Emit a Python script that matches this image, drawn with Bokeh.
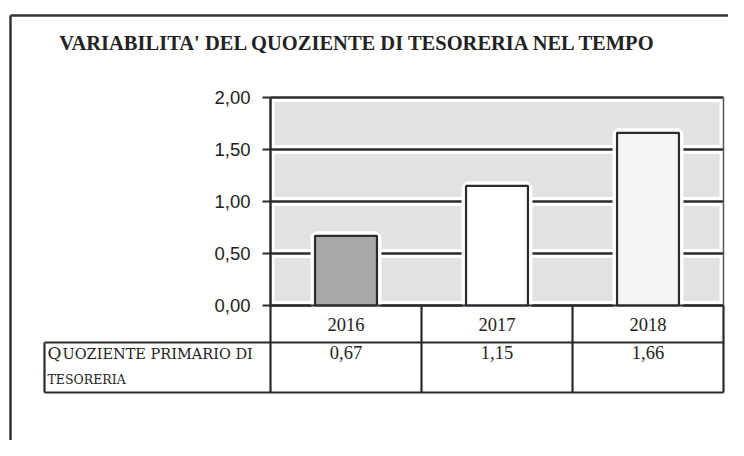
from bokeh.plotting import figure
from bokeh.models import Range1d, ColumnDataSource
from bokeh.core.properties import value
from bokeh.embed import file_html
from bokeh.resources import INLINE

# ---- data ----
title_text = "VARIABILITA' DEL QUOZIENTE DI TESORERIA NEL TEMPO"
categories = ["2016", "2017", "2018"]
values = [0.67, 1.15, 1.66]
bar_colors = ["#a8a8a8", "#ffffff", "#f4f4f4"]
y_ticks = [0.0, 0.5, 1.0, 1.5, 2.0]
y_tick_labels = ["0,00", "0,50", "1,00", "1,50", "2,00"]
row_label_initial = "Q"
row_label_line1 = "UOZIENTE PRIMARIO DI"
row_label_line2 = "TESORERIA"

W, H = 728, 440
# layout (canvas pixels): origin of data x=0 / y=0, and scale
X0PX, XS = 270.0, 151.0
Y0PX, YS = 305.0, 104.0


def X(px):
    return (px - X0PX) / XS


def Y(py):
    return (Y0PX - py) / YS


p = figure(width=W, height=H, output_backend="svg", toolbar_location=None,
           x_range=Range1d(X(0), X(W)), y_range=Range1d(Y(H), Y(0)),
           x_axis_type=None, y_axis_type=None,
           min_border=0, min_border_left=0, min_border_right=0,
           min_border_top=0, min_border_bottom=0)
p.grid.visible = False
p.outline_line_color = None
p.background_fill_color = "white"
p.border_fill_color = "white"

n = len(categories)
ymax = y_ticks[-1]
line_col = "#2b2b2b"
txt_col = "#222222"

# outer frame (top and left)
p.segment(x0=[X(10), X(10)], y0=[Y(15), Y(15)], x1=[X(W), X(10)], y1=[Y(15), Y(H)],
          line_color="#333333", line_width=2.5)

# title
p.text(x=[X(358)], y=[Y(42)], text=[title_text],
       text_font=value("Liberation Serif"), text_font_style="bold",
       text_font_size="20.5px", text_align="center", text_baseline="middle",
       text_color=txt_col)

# plot-area bands (light gray between gridlines, with white gaps)
gap_y = 4.5 / YS
gap_x = 4.0 / XS
band_bottom = [y_ticks[i] + gap_y for i in range(len(y_ticks) - 1)]
band_top = [y_ticks[i + 1] - gap_y for i in range(len(y_ticks) - 1)]
p.quad(left=[gap_x] * len(band_bottom), right=[n - gap_x] * len(band_bottom),
       bottom=band_bottom, top=band_top, fill_color="#e2e2e2", line_color=None)

# gridlines
p.segment(x0=[0] * len(y_ticks), x1=[n] * len(y_ticks), y0=y_ticks, y1=y_ticks,
          line_color=line_col, line_width=2.5)

# right border of plot area
p.segment(x0=[n], x1=[n], y0=[0], y1=[ymax], line_color="#555555", line_width=1.5)

# bars (white halo, then bar)
centers = [i + 0.5 for i in range(n)]
src = ColumnDataSource(dict(x=centers, top=values, color=bar_colors))
p.vbar(x="x", top="top", bottom=0, width=0.41, source=src,
       fill_color="white", line_color="white", line_width=9)
p.vbar(x="x", top="top", bottom=0, width=0.41, source=src,
       fill_color="color", line_color=line_col, line_width=2.2)

# y axis line, ticks and labels
p.segment(x0=[0], x1=[0], y0=[0], y1=[ymax], line_color=line_col, line_width=2.5)
p.segment(x0=[X(X0PX - 8)] * len(y_ticks), x1=[0] * len(y_ticks), y0=y_ticks, y1=y_ticks,
          line_color=line_col, line_width=2)
p.text(x=[0] * len(y_ticks), y=y_ticks, text=y_tick_labels, x_offset=-20,
       text_font=value("Liberation Sans"), text_font_size="18.5px",
       text_align="right", text_baseline="middle", text_color=txt_col)

# data table below the plot
row1_bottom = Y(342)
row2_bottom = Y(392)
label_left = X(44)
# horizontal lines
p.segment(x0=[0, label_left, label_left], x1=[n, n, n],
          y0=[0, row1_bottom, row2_bottom], y1=[0, row1_bottom, row2_bottom],
          line_color=line_col, line_width=2.2)
# vertical lines
vx = list(range(n + 1))
p.segment(x0=vx, x1=vx, y0=[0] * len(vx), y1=[row2_bottom] * len(vx),
          line_color=line_col, line_width=2.2)
p.segment(x0=[label_left], x1=[label_left], y0=[row1_bottom], y1=[row2_bottom],
          line_color=line_col, line_width=2.2)

# year labels
p.text(x=centers, y=[row1_bottom / 2] * n, text=categories,
       text_font=value("Liberation Serif"), text_font_size="18.5px",
       text_align="center", text_baseline="middle", text_color=txt_col)
# value labels
value_labels = [f"{v:.2f}".replace(".", ",") for v in values]
p.text(x=centers, y=[Y(352)] * n, text=value_labels,
       text_font=value("Liberation Serif"), text_font_size="18.5px",
       text_align="center", text_baseline="middle", text_color=txt_col)
# row label (small caps look)
p.text(x=[X(47)], y=[Y(352)], text=[row_label_initial],
       text_font=value("DejaVu Serif"), text_font_size="17px",
       text_align="left", text_baseline="middle", text_color=txt_col)
p.text(x=[X(62)], y=[Y(353)], text=[row_label_line1],
       text_font=value("DejaVu Serif"), text_font_size="14.5px",
       text_align="left", text_baseline="middle", text_color=txt_col)
p.text(x=[X(47)], y=[Y(379)], text=[row_label_line2],
       text_font=value("DejaVu Serif"), text_font_size="12.5px",
       text_align="left", text_baseline="middle", text_color=txt_col)

open("out.html", "w").write(file_html(p, INLINE))
